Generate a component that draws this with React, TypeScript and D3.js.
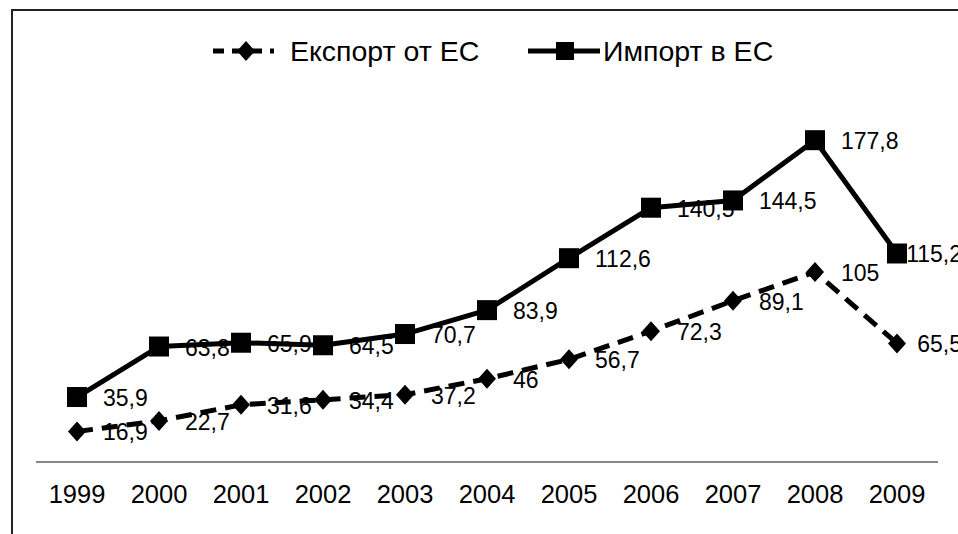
import * as d3 from 'd3';
import { useEffect, useRef } from "react";

const years = ["1999", "2000", "2001", "2002", "2003", "2004", "2005", "2006", "2007", "2008", "2009"];
const exportValues = [16.9, 22.7, 31.6, 34.4, 37.2, 46, 56.7, 72.3, 89.1, 105, 65.5];
const importValues = [35.9, 63.8, 65.9, 64.5, 70.7, 83.9, 112.6, 140.5, 144.5, 177.8, 115.2];
const seriesNames = ["Експорт от ЕС", "Импорт в ЕС"];

const width = 958;
const height = 534;
const font = "'Liberation Sans', Arial, sans-serif";

const App = () => {
    const svgRef = useRef<SVGSVGElement>(null);
    const margin = { top: 100, bottom: 72, left: 36, right: 20 };

    useEffect(() => {
        const svg = d3.select(svgRef.current)
            .attr('width', width)
            .attr('height', height);
        svg.selectAll('*').remove();

        const x = d3.scaleBand<string>()
            .domain(years)
            .range([margin.left, width - margin.right]);
        const y = d3.scaleLinear()
            .domain([0, 200])
            .range([height - margin.bottom, margin.top]);
        const cx = (d: string) => (x(d) as number) + x.bandwidth() / 2;

        // frame (chart is cropped on the right and bottom)
        svg.append('path')
            .attr('d', `M12,${height} V10 H${width}`)
            .attr('fill', 'none')
            .attr('stroke', '#222')
            .attr('stroke-width', 2);

        // category axis
        svg.append('line')
            .attr('x1', margin.left).attr('x2', width - margin.right)
            .attr('y1', y(0)).attr('y2', y(0))
            .attr('stroke', '#868686').attr('stroke-width', 2);
        svg.append('g').selectAll('text')
            .data(years).enter().append('text')
            .attr('x', d => cx(d))
            .attr('y', y(0) + 32)
            .attr('text-anchor', 'middle')
            .attr('dominant-baseline', 'central')
            .attr('font-family', font)
            .attr('font-size', 25.5)
            .attr('fill', '#000')
            .text(d => d);

        // data labels (under the lines, as in the original)
        const labels = svg.append('g');
        const addLabels = (vals: number[]) => {
            vals.forEach((v, i) => {
                const t = labels.append('text')
                    .attr('x', cx(years[i]) + 26)
                    .attr('y', y(v) + 1)
                    .attr('dominant-baseline', 'central')
                    .attr('font-family', font)
                    .attr('font-size', 23)
                    .attr('fill', '#000')
                    .text(String(v).replace('.', ','));
                const w = (t.node() as SVGTextElement).getComputedTextLength();
                if (cx(years[i]) + 26 + w > 962) t.attr('x', 962 - w);
            });
        };
        addLabels(exportValues);
        addLabels(importValues);

        const line = d3.line<number>()
            .x((_, i) => cx(years[i]))
            .y(d => y(d));

        const diamond = (px: number, py: number) =>
            `M${px},${py - 10} L${px + 9},${py} L${px},${py + 10} L${px - 9},${py} Z`;

        // export series
        svg.append('path')
            .attr('d', line(exportValues))
            .attr('fill', 'none')
            .attr('stroke', '#000')
            .attr('stroke-width', 5)
            .attr('stroke-dasharray', '16,9');
        svg.append('g').selectAll('path')
            .data(exportValues).enter().append('path')
            .attr('d', (d, i) => diamond(cx(years[i]), y(d)))
            .attr('fill', '#000');

        // import series
        svg.append('path')
            .attr('d', line(importValues))
            .attr('fill', 'none')
            .attr('stroke', '#000')
            .attr('stroke-width', 5)
            .attr('stroke-linejoin', 'round');
        svg.append('g').selectAll('rect')
            .data(importValues).enter().append('rect')
            .attr('x', (d, i) => cx(years[i]) - 10)
            .attr('y', d => y(d) - 10)
            .attr('width', 20)
            .attr('height', 20)
            .attr('fill', '#000');

        // legend
        const ly = 51;
        const lg = svg.append('g');
        lg.append('line')
            .attr('x1', 213).attr('x2', 274).attr('y1', ly).attr('y2', ly)
            .attr('stroke', '#000').attr('stroke-width', 5)
            .attr('stroke-dasharray', '11,8');
        lg.append('path').attr('d', diamond(246, ly)).attr('fill', '#000');
        lg.append('text')
            .attr('x', 290).attr('y', ly)
            .attr('dominant-baseline', 'central')
            .attr('font-family', font).attr('font-size', 28.5)
            .text(seriesNames[0]);
        lg.append('line')
            .attr('x1', 528).attr('x2', 600).attr('y1', ly).attr('y2', ly)
            .attr('stroke', '#000').attr('stroke-width', 5);
        lg.append('rect')
            .attr('x', 556).attr('y', ly - 9).attr('width', 18).attr('height', 18)
            .attr('fill', '#000');
        lg.append('text')
            .attr('x', 603).attr('y', ly)
            .attr('dominant-baseline', 'central')
            .attr('font-family', font).attr('font-size', 28.5)
            .text(seriesNames[1]);
    });

    return (
        <div style={{ position: 'fixed', left: 0, top: 0, background: '#fff' }}>
            <svg ref={svgRef} style={{ display: 'block' }} />
        </div>
    );
}

export default App;
